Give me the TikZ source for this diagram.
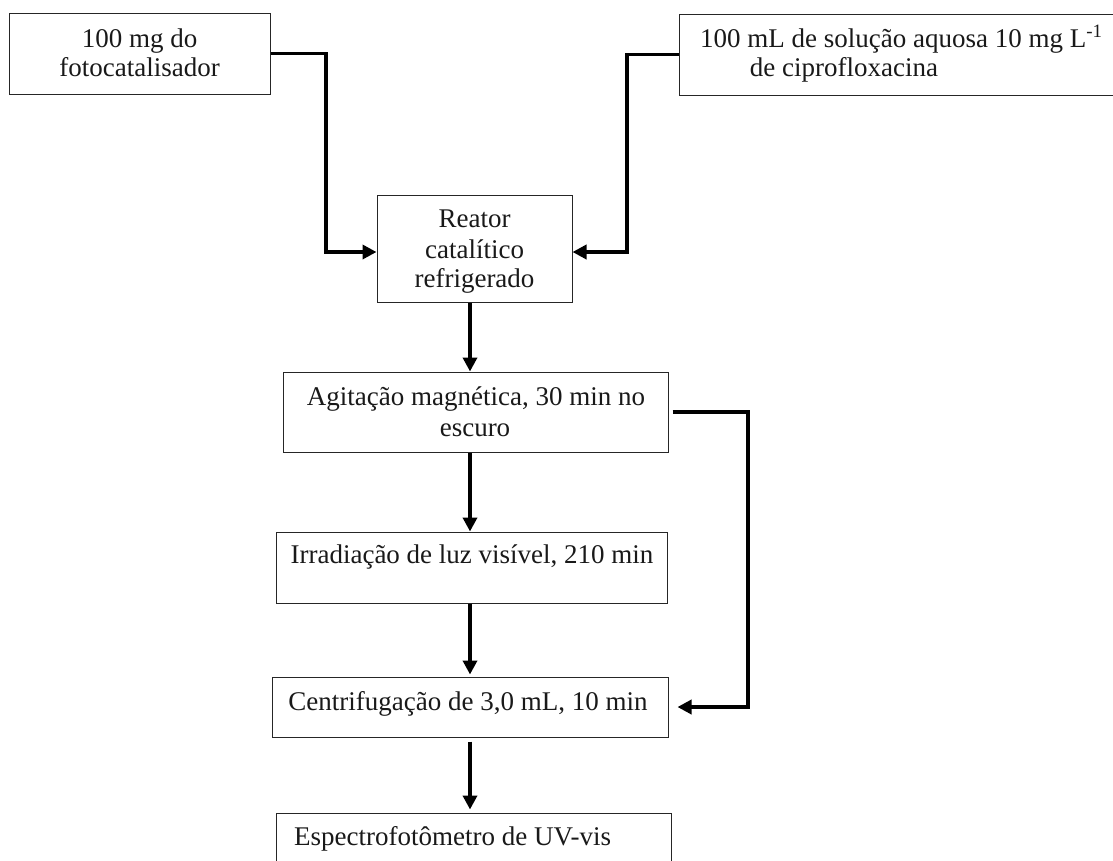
\documentclass[tikz,border=0pt]{standalone}
\usepackage{fontspec}
\setmainfont{Liberation Serif}
\usetikzlibrary{arrows.meta}
\begin{document}
\begin{tikzpicture}[x=1pt,y=-1pt,
  box/.style={draw=black!85, line width=1pt, rectangle, inner sep=0pt},
  txt/.style={inner sep=0pt, font=\fontsize{27}{30}\selectfont, text=black!90},
  conn/.style={line width=3.5pt, -{Triangle[length=14pt,width=14pt]}}]
  \useasboundingbox (0,0) rectangle (1113,860);
  \clip (0,0) rectangle (1113,860);

  % boxes
  \node[box, minimum width=261, minimum height=81] (b1) at (139.5,53.5) {};
  \node[box, minimum width=460, minimum height=81] (b2) at (909,54.5) {};
  \node[box, minimum width=195, minimum height=107] (reactor) at (474.5,248.5) {};
  \node[box, minimum width=385, minimum height=80] (agit) at (475.5,412) {};
  \node[box, minimum width=391, minimum height=71] (irr) at (471.5,567.5) {};
  \node[box, minimum width=396, minimum height=60] (cent) at (470,707) {};
  \node[box, minimum width=395, minimum height=80] (espec) at (473.5,853) {};

  % texts
  \node[txt, anchor=base] (b1l1) at (139.5,47) {100 mg do};
  \node[txt, anchor=base] (b1l2) at (139.5,76) {fotocatalisador};
  \node[txt, anchor=base west] (b2l1) at (700,47) {100 mL de solução aquosa 10 mg L\textsuperscript{-1}};
  \node[txt, anchor=base] (b2l2) at (844,76) {de ciprofloxacina};
  \node[txt, anchor=base] (rl1) at (474.5,227) {Reator};
  \node[txt, anchor=base] (rl2) at (474.5,258) {catalítico};
  \node[txt, anchor=base] (rl3) at (474.5,287) {refrigerado};
  \node[txt, anchor=base] (al1) at (476,405) {Agitação magnética, 30 min no};
  \node[txt, anchor=base] (al2) at (475,436) {escuro};
  \node[txt, anchor=base] (il1) at (472,563) {Irradiação de luz visível, 210 min};
  \node[txt, anchor=base] (cl1) at (468,710) {Centrifugação de 3,0 mL, 10 min};
  \node[txt, anchor=base west] (el1) at (294,845) {Espectrofotômetro de UV-vis};

  % routing points
  \coordinate (j1) at (326,252);
  \coordinate (j2) at (627,252);
  \coordinate (j3) at (748,560);
  \coordinate (axis) at (470,0);

  % connectors
  \draw[conn] (b1.east) -| (j1) -- (j1 -| reactor.west);
  \draw[conn] (b2.west) -| (j2) -- (j2 -| reactor.east);
  \draw[conn] (reactor.south -| axis) -- (agit.north -| axis);
  \draw[conn] (agit.south -| axis) -- (irr.north -| axis);
  \draw[conn, shorten >=2pt] (irr.south -| axis) -- (cent.north -| axis);
  \draw[conn, shorten <=4pt, shorten >=3pt] (cent.south -| axis) -- (espec.north -| axis);
  \draw[conn, shorten <=4pt, shorten >=9pt] (agit.east) -| (j3) |- (cent.east);
\end{tikzpicture}
\end{document}
